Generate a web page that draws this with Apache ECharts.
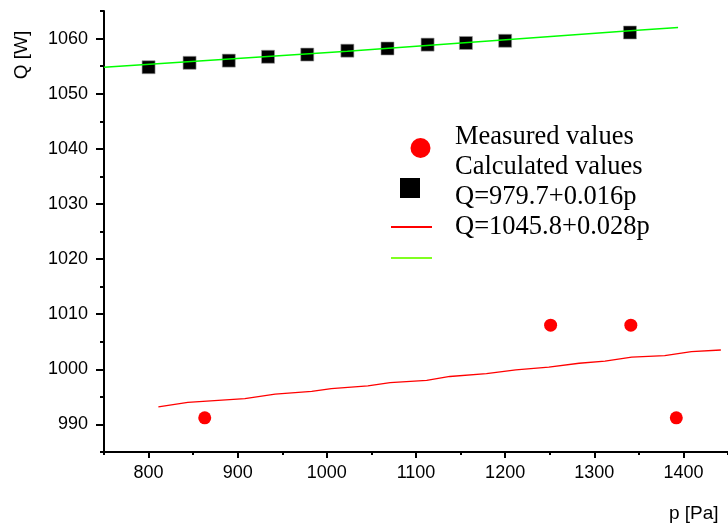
<!DOCTYPE html>
<html>
<head>
<meta charset="utf-8">
<script src="https://cdn.jsdelivr.net/npm/echarts@6/dist/echarts.min.js"></script>
<style>
  html, body { margin: 0; padding: 0; background: #fff; }
  #chart { width: 728px; height: 530px; }
</style>
</head>
<body>
<div id="chart"></div>
<script>
// values: p [Pa], Q [W]
const measuredP = [863, 1251, 1341, 1392];
const measuredQ = [991.2, 1008.0, 1008.0, 991.2];

const calculatedP = [800, 846, 890, 934, 978, 1023, 1068, 1113, 1156, 1200, 1340];
const calculatedQ = [1054.8, 1055.6, 1056.0, 1056.7, 1057.1, 1057.8, 1058.2, 1058.9, 1059.2, 1059.6, 1061.1];

const redLineP = [811, 844, 908, 942, 983, 1005, 1046, 1071, 1112, 1138, 1179, 1212, 1249, 1283, 1312, 1342, 1379, 1409, 1442];
const redLineQ = [993.2, 994.0, 994.7, 995.5, 996.0, 996.5, 997.0, 997.6, 998.0, 998.7, 999.2, 999.9, 1000.4, 1001.1, 1001.5, 1002.2, 1002.5, 1003.2, 1003.5];

const greenLineP = [750, 1023, 1340, 1394];
const greenLineQ = [1054.8, 1057.7, 1061.4, 1062.0];

const xTicks = [800, 900, 1000, 1100, 1200, 1300, 1400];
const yTicks = [990, 1000, 1010, 1020, 1030, 1040, 1050, 1060];

const seriesNames = ['Measured values', 'Calculated values', 'Q=979.7+0.016p', 'Q=1045.8+0.028p'];

function pairs (xs, ys) {
  return xs.map((x, i) => [x, ys[i]]);
}

const axisFont = { fontFamily: 'Liberation Sans', fontSize: 18, color: '#000', formatter: (v) => String(v) };
const blackLine = { show: true, lineStyle: { color: '#000', width: 2 } };

const chart = echarts.init(document.getElementById('chart'));

chart.setOption({
  animation: false,
  backgroundColor: '#fff',
  grid: { left: 104, top: 11, right: -6, bottom: 78, containLabel: false },
  xAxis: [
    {
      type: 'value', position: 'bottom', min: 750, max: 1450,
      axisLine: blackLine,
      axisTick: { show: true, customValues: xTicks, length: 6, lineStyle: { color: '#000', width: 2 } },
      axisLabel: Object.assign({ customValues: xTicks, margin: 12 }, axisFont),
      splitLine: { show: false }
    },
    {
      // minor ticks
      type: 'value', position: 'bottom', min: 750, max: 1450, interval: 50,
      axisLine: { show: false },
      axisTick: { show: true, length: 3, lineStyle: { color: '#000', width: 2 } },
      axisLabel: { show: false },
      splitLine: { show: false }
    }
  ],
  yAxis: [
    {
      type: 'value', position: 'left', min: 985, max: 1065,
      axisLine: blackLine,
      axisTick: { show: true, customValues: yTicks, length: 8, lineStyle: { color: '#000', width: 2 } },
      axisLabel: Object.assign({ customValues: yTicks, margin: 16 }, axisFont),
      splitLine: { show: false }
    },
    {
      type: 'value', position: 'left', min: 985, max: 1065, interval: 5,
      axisLine: { show: false },
      axisTick: { show: true, length: 4, lineStyle: { color: '#000', width: 2 } },
      axisLabel: { show: false },
      splitLine: { show: false }
    }
  ],
  legend: [
    {
      // text column
      orient: 'vertical', left: 449, top: 122, padding: 0, itemGap: 0,
      itemWidth: 0, itemHeight: 0, data: seriesNames,
      textStyle: { fontFamily: 'Liberation Serif', fontSize: 26.5, lineHeight: 30, color: '#000' }
    },
    {
      // symbols column
      orient: 'vertical', left: 400, top: 138, padding: 0, itemGap: 20,
      itemWidth: 41, itemHeight: 20, data: seriesNames.slice(0, 2),
      itemStyle: { borderWidth: 0, opacity: 1 },
      formatter: () => '', textStyle: { fontSize: 8 }
    },
    {
      orient: 'vertical', left: 391, top: 226, padding: 0,
      itemWidth: 41, itemHeight: 2,
      data: [{ name: seriesNames[2], icon: 'rect' }],
      formatter: () => '', textStyle: { fontSize: 1 }
    },
    {
      orient: 'vertical', left: 391, top: 257, padding: 0,
      itemWidth: 41, itemHeight: 2,
      data: [{ name: seriesNames[3], icon: 'rect' }],
      itemStyle: { color: '#80ff20' },
      formatter: () => '', textStyle: { fontSize: 1 }
    }
  ],
  graphic: [
    {
      type: 'text', x: 22, y: 55, rotation: Math.PI / 2,
      style: { text: 'Q [W]', fontFamily: 'Liberation Sans', fontSize: 19, fill: '#000', align: 'center', verticalAlign: 'middle' }
    },
    {
      type: 'text', x: 669, y: 514,
      style: { text: 'p [Pa]', fontFamily: 'Liberation Sans', fontSize: 19, fill: '#000', align: 'left', verticalAlign: 'middle' }
    }
  ],
  series: [
    {
      name: seriesNames[0], type: 'scatter', symbol: 'circle', symbolSize: 13,
      itemStyle: { color: '#ff0000', opacity: 1 },
      data: pairs(measuredP, measuredQ)
    },
    {
      name: seriesNames[1], type: 'scatter', symbol: 'square', symbolSize: 13,
      itemStyle: { color: '#000', opacity: 1, borderColor: '#999', borderWidth: 0.6 },
      data: pairs(calculatedP, calculatedQ)
    },
    {
      name: seriesNames[2], type: 'line', symbol: 'none', z: 3,
      lineStyle: { color: '#ff0000', width: 1.3 },
      itemStyle: { color: '#ff0000' },
      data: pairs(redLineP, redLineQ)
    },
    {
      name: seriesNames[3], type: 'line', symbol: 'none', z: 3,
      lineStyle: { color: '#00ff00', width: 1.5 },
      itemStyle: { color: '#00ff00' },
      data: pairs(greenLineP, greenLineQ)
    }
  ]
});
</script>
</body>
</html>
